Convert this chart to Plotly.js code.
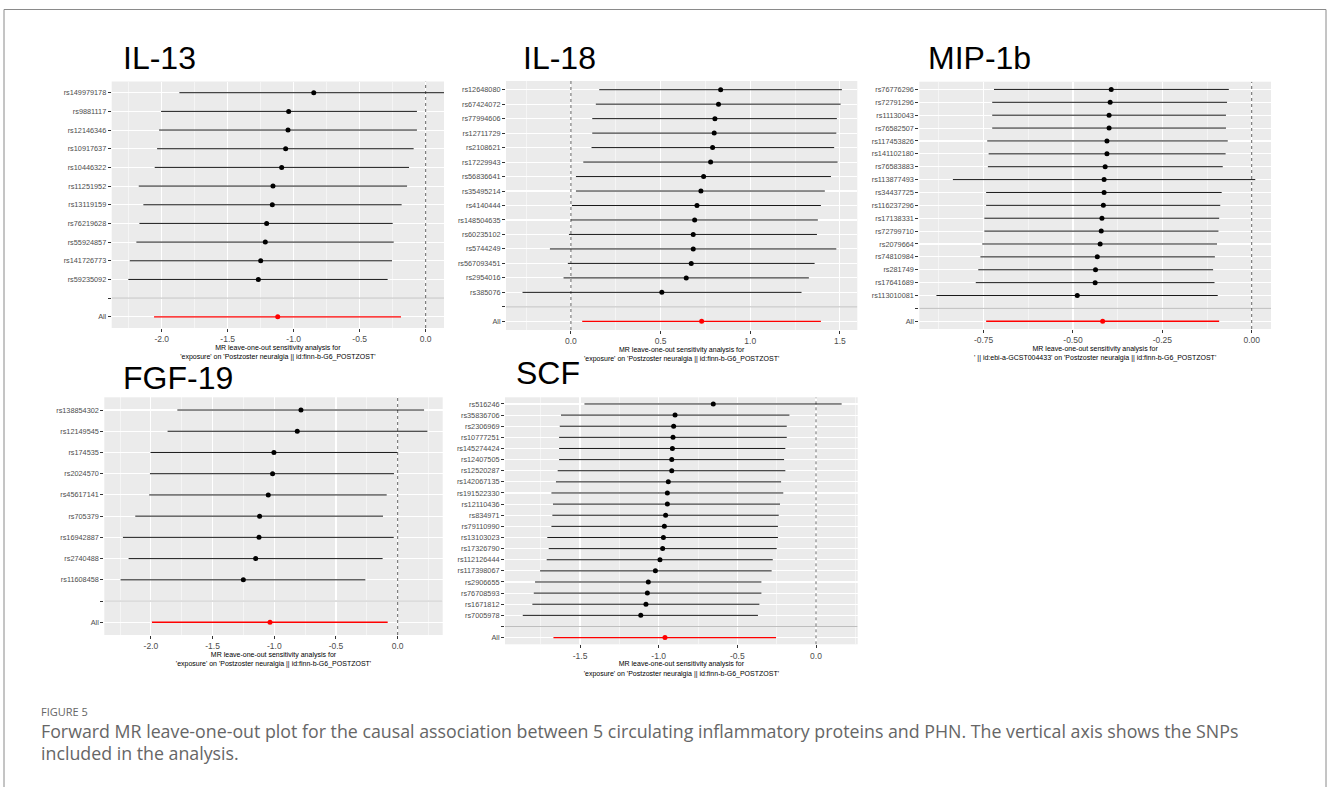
<!DOCTYPE html>
<html><head><meta charset="utf-8">
<script src="https://cdn.plot.ly/plotly-3.0.1.min.js"></script>
<style>html,body{margin:0;padding:0;background:#fff}#chart{width:1328px;height:787px}</style>
</head><body><div id="chart"></div>
<script>
// ---------------- DATA ----------------
// IL-13
const il13Snps = ["rs149979178","rs9881117","rs12146346","rs10917637","rs10446322","rs11251952","rs13119159","rs76219628","rs55924857","rs141726773","rs59235092"];
const il13B  = [-0.848,-1.038,-1.043,-1.061,-1.091,-1.157,-1.162,-1.205,-1.215,-1.250,-1.268];
const il13Lo = [-1.866,-2.005,-2.020,-2.035,-2.053,-2.174,-2.139,-2.169,-2.192,-2.242,-2.253];
const il13Hi = [0.267,-0.066,-0.066,-0.091,-0.126,-0.141,-0.182,-0.250,-0.242,-0.255,-0.288];
const il13All = {b:-1.121, lo:-2.058, hi:-0.187};
const il13Ticks = [-2.0,-1.5,-1.0,-0.5,0.0];

// IL-18
const il18Snps = ["rs12648080","rs67424072","rs77994606","rs12711729","rs2108621","rs17229943","rs56836641","rs35495214","rs4140444","rs148504635","rs60235102","rs5744249","rs567093451","rs2954016","rs385076"];
const il18B  = [0.835,0.823,0.803,0.799,0.790,0.779,0.740,0.725,0.703,0.690,0.682,0.682,0.671,0.643,0.507];
const il18Lo = [0.158,0.139,0.119,0.119,0.115,0.069,0.028,0.028,0.006,0.000,-0.011,-0.117,-0.017,-0.041,-0.270];
const il18Hi = [1.511,1.504,1.483,1.480,1.468,1.487,1.450,1.416,1.394,1.377,1.372,1.480,1.359,1.327,1.286];
const il18All = {b:0.729, lo:0.063, hi:1.394};
const il18Ticks = [0.0,0.5,1.0,1.5];

// MIP-1b
const mipSnps = ["rs76776296","rs72791296","rs11130043","rs76582507","rs117453826","rs141102180","rs76583883","rs113877493","rs34437725","rs116237296","rs17138331","rs72799710","rs2079664","rs74810984","rs281749","rs17641689","rs113010081"];
const mipB  = [-0.393,-0.396,-0.399,-0.399,-0.405,-0.405,-0.410,-0.413,-0.413,-0.415,-0.419,-0.421,-0.424,-0.432,-0.437,-0.438,-0.488];
const mipLo = [-0.721,-0.726,-0.726,-0.726,-0.740,-0.736,-0.738,-0.836,-0.743,-0.743,-0.748,-0.748,-0.754,-0.759,-0.765,-0.772,-0.882];
const mipHi = [-0.064,-0.069,-0.072,-0.072,-0.067,-0.073,-0.081,0.010,-0.084,-0.088,-0.091,-0.093,-0.097,-0.103,-0.108,-0.104,-0.095];
const mipAll = {b:-0.417, lo:-0.743, hi:-0.091};
const mipTicks = [-0.75,-0.50,-0.25,0.00];

// FGF-19
const fgfSnps = ["rs138854302","rs12149545","rs174535","rs2024570","rs45617141","rs705379","rs16942887","rs2740488","rs11608458"];
const fgfB  = [-0.784,-0.814,-1.003,-1.014,-1.049,-1.119,-1.124,-1.151,-1.251];
const fgfLo = [-1.786,-1.865,-2.003,-2.008,-2.014,-2.127,-2.227,-2.181,-2.246];
const fgfHi = [0.214,0.241,-0.003,-0.030,-0.089,-0.119,-0.032,-0.122,-0.262];
const fgfAll = {b:-1.035, lo:-1.992, hi:-0.081};
const fgfTicks = [-2.0,-1.5,-1.0,-0.5,0.0];

// SCF
const scfSnps = ["rs516246","rs35836706","rs2306969","rs10777251","rs145274424","rs12407505","rs12520287","rs142067135","rs191522330","rs12110436","rs834971","rs79110990","rs13103023","rs17326790","rs112126444","rs117398067","rs2906655","rs76708593","rs1671812","rs7005978"];
const scfB  = [-0.653,-0.896,-0.905,-0.909,-0.913,-0.917,-0.917,-0.939,-0.945,-0.945,-0.956,-0.964,-0.970,-0.975,-0.992,-1.021,-1.066,-1.072,-1.081,-1.114];
const scfLo = [-1.472,-1.621,-1.629,-1.633,-1.633,-1.633,-1.642,-1.653,-1.682,-1.672,-1.676,-1.682,-1.708,-1.699,-1.712,-1.754,-1.786,-1.794,-1.803,-1.864];
const scfHi = [0.163,-0.169,-0.186,-0.186,-0.195,-0.203,-0.195,-0.222,-0.208,-0.229,-0.237,-0.242,-0.242,-0.250,-0.275,-0.282,-0.347,-0.347,-0.360,-0.369];
const scfAll = {b:-0.960, lo:-1.669, hi:-0.254};
const scfTicks = [-1.5,-1.0,-0.5,0.0];

const titleStd = "MR leave-one-out sensitivity analysis for<br>'exposure' on 'Postzoster neuralgia || id:finn-b-G6_POSTZOST'";
const titleMip = "MR leave-one-out sensitivity analysis for<br>' || id:ebi-a-GCST004433' on 'Postzoster neuralgia || id:finn-b-G6_POSTZOST'";

// ---------------- LAYOUT ----------------
const W = 1328, H = 787;
const fx = p => p / W;
const fy = p => 1 - p / H;

const panels = [
  {name:"IL-13", snps:il13Snps, b:il13B, lo:il13Lo, hi:il13Hi, all:il13All, ticks:il13Ticks, dec:1, minor:0.25,
   xr:[-2.379,0.139], box:[111.7,81.5,444,328], tpos:[121,58], xt:titleStd},
  {name:"IL-18", snps:il18Snps, b:il18B, lo:il18Lo, hi:il18Hi, all:il18All, ticks:il18Ticks, dec:1, minor:0.25,
   xr:[-0.362,1.597], box:[506,81,857.3,330], tpos:[521,58], xt:titleStd},
  {name:"MIP-1b", snps:mipSnps, b:mipB, lo:mipLo, hi:mipHi, all:mipAll, ticks:mipTicks, dec:2, minor:0.125,
   xr:[-0.930,0.054], box:[919.3,81.7,1271,329], tpos:[926,58], xt:titleMip},
  {name:"FGF-19", snps:fgfSnps, b:fgfB, lo:fgfLo, hi:fgfHi, all:fgfAll, ticks:fgfTicks, dec:1, minor:0.25,
   xr:[-2.378,0.365], box:[104.3,397.3,442.7,635], tpos:[121,378], xt:titleStd},
  {name:"SCF", snps:scfSnps, b:scfB, lo:scfLo, hi:scfHi, all:scfAll, ticks:scfTicks, dec:1, minor:0.25,
   xr:[-1.977,0.265], box:[505,397.3,857.7,644.3], tpos:[514,373], xt:titleStd}
];

const FONT = "Liberation Sans, Arial, sans-serif";
const data = [];
const layout = {
  width: W, height: H,
  margin: {l:0, r:0, t:0, b:0},
  paper_bgcolor: "#ffffff",
  plot_bgcolor: "#EBEBEB",
  showlegend: false,
  font: {family: FONT, color: "#4D4D4D"},
  shapes: [], annotations: []
};

// figure frame
layout.shapes.push({type: "rect", xref: "paper", yref: "paper", x0: fx(4), x1: fx(1326), y0: -0.1, y1: fy(9.5),
  line: {color: "#8a8a8a", width: 1}, fillcolor: "rgba(0,0,0,0)", layer: "above"});

panels.forEach((p, i) => {
  const k = i + 1;
  const xa = k === 1 ? "x" : "x" + k;
  const ya = k === 1 ? "y" : "y" + k;
  const cats = p.snps.concat([" ", "All"]);
  const n = cats.length;
  const yr = [n - 1 + 0.6, -0.6];

  data.push({
    type: "scatter", mode: "markers", x: p.b, y: p.snps, xaxis: xa, yaxis: ya,
    marker: {color: "#000000", size: 5},
    error_x: {type: "data", symmetric: false,
      array: p.hi.map((h, j) => h - p.b[j]),
      arrayminus: p.lo.map((l, j) => p.b[j] - l),
      color: "#1a1a1a", thickness: 1, width: 0},
    hoverinfo: "x+y"
  });
  // placeholder for the empty separator row
  data.push({type: "scatter", mode: "markers", x: [p.all.b], y: [" "], xaxis: xa, yaxis: ya,
    marker: {opacity: 0, size: 1}, hoverinfo: "skip"});
  data.push({
    type: "scatter", mode: "markers", x: [p.all.b], y: ["All"], xaxis: xa, yaxis: ya,
    marker: {color: "#FF0000", size: 5},
    error_x: {type: "data", symmetric: false, array: [p.all.hi - p.all.b], arrayminus: [p.all.b - p.all.lo],
      color: "#FF0000", thickness: 1.3, width: 0},
    hoverinfo: "x+y"
  });

  const [x0, y0, x1, y1] = p.box;
  layout[k === 1 ? "xaxis" : "xaxis" + k] = {
    domain: [fx(x0), fx(x1)], anchor: ya, range: p.xr,
    tickmode: "array", tickvals: p.ticks, ticktext: p.ticks.map(v => v.toFixed(p.dec)),
    ticks: "outside", ticklen: 3, tickcolor: "#333333", tickwidth: 1,
    tickfont: {family: FONT, size: 8.5, color: "#4D4D4D"},
    showgrid: true, gridcolor: "#FFFFFF", gridwidth: 1.1,
    minor: {dtick: p.minor, tick0: 0, showgrid: true, gridcolor: "#FFFFFF", gridwidth: 0.5, ticks: ""},
    zeroline: false, showline: false, fixedrange: true,
    title: {text: p.xt, font: {family: FONT, size: 7, color: "#000000"}, standoff: 1}
  };
  layout[k === 1 ? "yaxis" : "yaxis" + k] = {
    domain: [fy(y1), fy(y0)], anchor: xa, type: "category",
    categoryorder: "array", categoryarray: cats,
    range: yr,
    ticks: "outside", ticklen: 3, tickcolor: "#333333", tickwidth: 1,
    tickfont: {family: FONT, size: 7.3, color: "#4D4D4D"},
    showgrid: true, gridcolor: "#FFFFFF", gridwidth: 1.1,
    zeroline: false, showline: false, fixedrange: true
  };

  // separator line at the empty row
  layout.shapes.push({type: "line", xref: xa, yref: ya, x0: p.xr[0], x1: p.xr[1],
    y0: p.snps.length, y1: p.snps.length, line: {color: "#BEBEBE", width: 1}, layer: "between"});
  // dotted reference line at zero
  layout.shapes.push({type: "line", xref: xa, yref: ya, x0: 0, x1: 0, y0: yr[0], y1: yr[1],
    line: {color: "#555555", width: 0.9, dash: "dot"}, layer: "between"});

  layout.annotations.push({text: p.name, xref: "paper", yref: "paper", x: fx(p.tpos[0]), y: fy(p.tpos[1]),
    xanchor: "left", yanchor: "middle", showarrow: false,
    font: {family: FONT, size: 32, color: "#000000"}});
});

// caption
const CAP = "Open Sans, Lato, sans-serif";
layout.annotations.push({text: "FIGURE 5", xref: "paper", yref: "paper", x: fx(39), y: fy(711),
  xanchor: "left", yanchor: "middle", showarrow: false, font: {family: CAP, size: 11, color: "#666666"}});
layout.annotations.push({text: "Forward MR leave-one-out plot for the causal association between 5 circulating inflammatory proteins and PHN. The vertical axis shows the SNPs",
  xref: "paper", yref: "paper", x: fx(39), y: fy(731), xanchor: "left", yanchor: "middle", showarrow: false,
  font: {family: CAP, size: 17.8, color: "#666666"}});
layout.annotations.push({text: "included in the analysis.",
  xref: "paper", yref: "paper", x: fx(39), y: fy(753), xanchor: "left", yanchor: "middle", showarrow: false,
  font: {family: CAP, size: 17.8, color: "#666666"}});

Plotly.newPlot("chart", data, layout, {staticPlot: true, displayModeBar: false});
</script>
</body></html>
